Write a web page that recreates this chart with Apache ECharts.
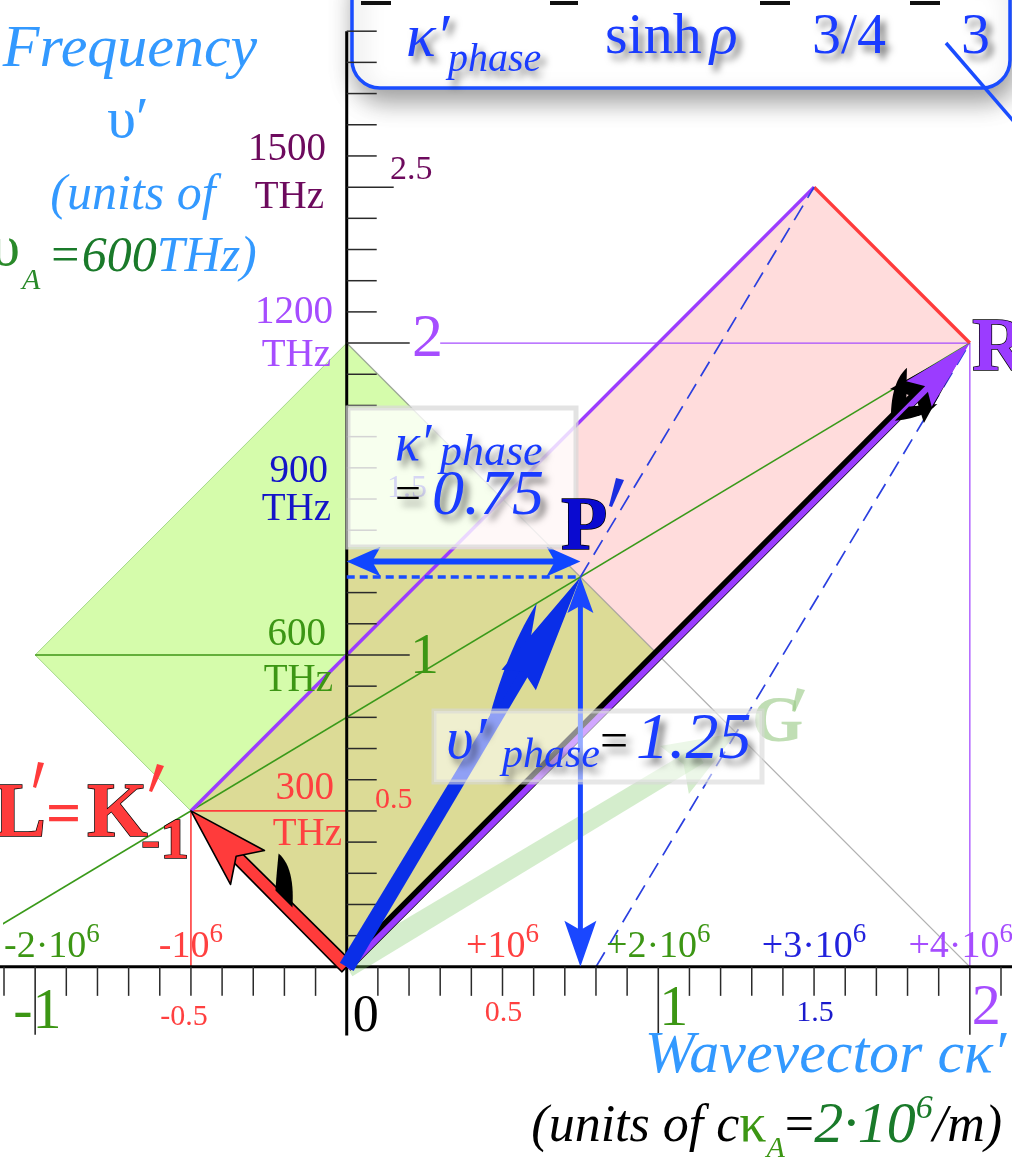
<!DOCTYPE html>
<html>
<head>
<meta charset="utf-8">
<title>Wavevector–frequency diagram</title>
<script src="https://cdn.jsdelivr.net/npm/echarts@6/dist/echarts.min.js"></script>
<style>
html, body { margin: 0; padding: 0; background: #ffffff; }
#chart { width: 1012px; height: 1157px; }
</style>
</head>
<body>
<div id="chart"></div>
<script>
// Wave-vector diagram: wavevector cκ′ (units of cκ_A) across, frequency υ′ (units of υ_A) up.

// ---- vectors and shapes, in diagram units ----
const origin = [0, 0];
const vecL = [-0.5, 0.5];      // L′ = K′₋₁
const vecR = [2, 2];           // R′
const vecP = [0.75, 1.25];     // P′ = (κ′phase, υ′phase)
const vecG = [1.25, 0.75];     // G′
const vecLR = [1.5, 2.5];      // L′ + R′
const dashFoot = [0.8, 0];     // dashed line through R′ meets the axis here
const kappaArrowY = 1.3;       // level of the κ′phase span arrow
const purpleRuleStart = 0.3;   // thin υ = 2 rule starts after its label

const greenDiamond = [[0, 0], [1, 1], [0, 2], [-1, 1]];
const pinkCell = [[0, 0], [2, 2], [1.5, 2.5], [-0.5, 0.5]];
const overlapCell = [[0, 0], [-0.5, 0.5], [0, 1], [0, 1.34], [0.66, 1.34], [1, 1]];
const greenRay = [[-1.14, 0.116], [2, 2]];
const grayDiag = [[0, 2], [2, 0]];
const greenMid = [[-1, 1], [0, 1]];

// ---- axis ticks and labels ----
const xTickFirst = -11, xTickLast = 21, yTickFirst = 1, yTickLast = 30, tickStep = 0.1;
const xLongTicks = [-1, 0, 1, 2];
const yLongTicks = [1, 2];
const yMidTicks = [2.5];
const xUnitValues = [-1, -0.5, 0, 0.5, 1, 1.5, 2];
const xUnitLabels = ['-1', '-0.5', '0', '0.5', '1', '1.5', '2'];
const waveValues = [-1, -0.5, 0.5, 1, 1.5, 2];
const waveLabels = ['-2·10', '-10', '+10', '+2·10', '+3·10', '+4·10'];
const waveExp = '6';
const yUnitValues = [0.5, 1, 1.5, 2, 2.5];
const yUnitLabels = ['0.5', '1', '1.5', '2', '2.5'];
const freqValues = [2.5, 2, 1.5, 1, 0.5];
const freqLabels = ['1500', '1200', '900', '600', '300'];

// ---- styling ----
const SERIF = '"Liberation Serif","Times New Roman","DejaVu Serif",serif';
const fnt = (size, style, weight) => (style || 'normal') + ' ' + (weight || 'normal') + ' ' + size + 'px ' + SERIF;
const C = {
  title: '#3399ff', deep: '#1a3cff', red: '#ff3b3b', green: '#3c9614', dgreen: '#1a7a2a',
  purple: '#a64dff', vpurple: '#9b3cff', plum: '#6d0a5d', navy: '#1414c8'
};
const SH = { textShadowColor: 'rgba(0,0,0,0.55)', textShadowBlur: 7, textShadowOffsetX: 5, textShadowOffsetY: 6 };

const mctx = document.createElement('canvas').getContext('2d');
function textWidth(t, font) { mctx.font = font; return mctx.measureText(t).width; }

function T(x, y, text, font, fill, align, z, extra) {
  return {
    type: 'text', x: x, y: y, z: z == null ? 60 : z, silent: true,
    style: Object.assign({
      text: text, font: font, fill: fill,
      align: align || 'left', verticalAlign: 'middle',
      textAlign: align || 'left', textVerticalAlign: 'middle'
    }, extra || {})
  };
}
// lay out pieces left to right; each piece: [text, font, color, dy, gapAfter]
function run(x, y, parts, z, extra) {
  const els = [];
  let cx = x;
  parts.forEach(p => {
    els.push(T(cx, y + (p[3] || 0), p[0], p[1], p[2], 'left', z, extra));
    cx += textWidth(p[0], p[1]) + (p[4] || 0);
  });
  return els;
}
function runWidth(parts) { return parts.reduce((s, p) => s + textWidth(p[0], p[1]) + (p[4] || 0), 0); }

function quad(p0, c, p1, n) {
  const pts = [];
  for (let i = 0; i <= n; i++) {
    const t = i / n, m = 1 - t;
    pts.push([m * m * p0[0] + 2 * m * t * c[0] + t * t * p1[0], m * m * p0[1] + 2 * m * t * c[1] + t * t * p1[1]]);
  }
  return pts;
}

// thick arrow drawn in pixel space between two projected points
function arrowParts(a, b, o) {
  const dx = b[0] - a[0], dy = b[1] - a[1], L = Math.hypot(dx, dy);
  const ux = dx / L, uy = dy / L, nx = -uy, ny = ux;
  const at = (p, al, pe) => [p[0] + ux * al + nx * pe, p[1] + uy * al + ny * pe];
  const out = [];
  const poly = (pts, fill, stroke, lw) => out.push({
    type: 'polygon', shape: { points: pts },
    style: { fill: fill, stroke: stroke || null, lineWidth: lw || 0, lineJoin: 'round' }
  });
  const hl = o.head, hw = o.headW, notch = o.notch == null ? 0.8 : o.notch;
  const tl = o.tailHead || 0, thw = o.tailHeadW || 0;
  const s0 = at(a, tl ? tl * 0.6 : 0, 0), s1 = at(b, -hl * 0.6, 0);
  const shaft = (w0, w1, off) => [at(s0, 0, off + w0 / 2), at(s1, 0, off + w1 / 2), at(s1, 0, off - w1 / 2), at(s0, 0, off - w0 / 2)];
  const tipHead = (len, half, back) => {
    const t = at(b, -(back || 0), 0);
    return [t, at(t, -len, half), at(t, -len * notch, 0), at(t, -len, -half)];
  };
  const w0 = o.w0, w1 = o.w1 == null ? o.w0 : o.w1;
  if (o.under) {
    const u = o.under;
    poly(shaft(u.w0, u.w1, u.off), u.color);
    poly(tipHead(u.head, u.headW, u.back), u.color);
  }
  poly(shaft(w0, w1, o.off || 0), o.fill, o.stroke, o.lw);
  // curved barb behind the head: from the shaft edge out to a hooked point
  (o.claws || []).forEach(cl => {
    const s = cl.side;
    const P0 = at(b, -cl.base0, s * w1 * 0.3);
    const P1 = at(b, -cl.tipAlong, s * cl.tipPerp);
    const P2 = at(b, -cl.base1, s * w1 * 0.3);
    const C1 = at(b, -(cl.base0 * 0.45 + cl.tipAlong * 0.55), s * cl.tipPerp * 1.05);
    const C2 = at(b, -(cl.base1 * 0.6 + cl.tipAlong * 0.4), s * cl.tipPerp * 0.45);
    poly(quad(P0, C1, P1, 14).concat(quad(P1, C2, P2, 14)), cl.color);
  });
  poly(tipHead(hl, hw, 0), o.fill, o.stroke, o.lw);
  if (tl) poly([a, at(a, tl, thw), at(a, tl * notch, 0), at(a, tl, -thw)], o.fill, o.stroke, o.lw);
  return out;
}

function arrowSeries(from, to, o) {
  return {
    type: 'custom', coordinateSystem: 'cartesian2d', clip: false, z: o.z, silent: true,
    data: [[from[0], from[1], to[0], to[1]]],
    encode: { x: [0, 2], y: [1, 3] },
    renderItem: function (params, api) {
      const a = api.coord([api.value(0), api.value(1)]);
      const b = api.coord([api.value(2), api.value(3)]);
      return { type: 'group', children: arrowParts(a, b, o) };
    }
  };
}

function polySeries(pts, fill, stroke, lw, z) {
  return {
    type: 'custom', coordinateSystem: 'cartesian2d', clip: false, z: z, silent: true,
    data: pts,
    renderItem: function (params, api) {
      if (params.dataIndex !== 0) return null;
      return {
        type: 'polygon', shape: { points: pts.map(p => api.coord(p)) },
        style: { fill: fill, stroke: stroke || null, lineWidth: lw || 0 }
      };
    }
  };
}

function lineSeries(pts, color, width, dash, z) {
  return {
    type: 'line', data: pts, showSymbol: false, symbol: 'none', clip: false, silent: true, z: z,
    lineStyle: { color: color, width: width, type: dash || 'solid', cap: 'butt' }
  };
}

// hand-drawn axes: lines at the zeros, 0.1 ticks, longer ticks at the unit marks
const axisSeries = {
  type: 'custom', coordinateSystem: 'cartesian2d', clip: false, z: 5, silent: true,
  data: [[0, 0]],
  renderItem: function (params, api) {
    const ch = [];
    const seg = (p, q, w, c) => ch.push({ type: 'line', shape: { x1: p[0], y1: p[1], x2: q[0], y2: q[1] }, style: { stroke: c, lineWidth: w } });
    seg(api.coord([-1.14, 0]), api.coord([2.16, 0]), 3, '#000');
    seg(api.coord([0, 3.0]), api.coord([0, -0.22]), 3, '#000');
    for (let i = xTickFirst; i <= xTickLast; i++) {
      const v = +(i * tickStep).toFixed(2);
      if (v === 0) continue;
      const p = api.coord([v, 0]);
      const long = xLongTicks.indexOf(v) >= 0;
      seg(p, [p[0], p[1] + (long ? 68 : 29)], long ? 1.6 : 1.5, '#2a2a2a');
    }
    for (let i = yTickFirst; i <= yTickLast; i++) {
      const v = +(i * tickStep).toFixed(2);
      const p = api.coord([0, v]);
      const len = yLongTicks.indexOf(v) >= 0 ? 63 : (yMidTicks.indexOf(v) >= 0 ? 47 : 30);
      seg(p, [p[0] + len, p[1]], 1.5, '#2a2a2a');
    }
    return { type: 'group', children: ch };
  }
};

const series = [
  polySeries(greenDiamond, '#d5fcab', '#a6d98d', 1, 1),
  polySeries(pinkCell, '#ffdcdc', null, 0, 1),
  polySeries(overlapCell, '#dcdb96', null, 0, 1),
  lineSeries(greenMid, C.green, 1.6, 'solid', 3),
  lineSeries(grayDiag, 'rgba(150,150,150,0.75)', 1.3, 'solid', 3),
  lineSeries([[purpleRuleStart, vecR[1]], vecR], C.purple, 1.3, 'solid', 3),
  lineSeries([[vecR[0], 0], vecR], C.purple, 1.3, 'solid', 3),
  lineSeries([[vecL[0], 0], vecL], C.red, 1.6, 'solid', 3),
  lineSeries([vecL, [0, vecL[1]]], C.red, 1.6, 'solid', 3),
  lineSeries(greenRay, '#3a9a1a', 1.6, 'solid', 3),
  lineSeries([vecL, vecLR], C.vpurple, 3.5, 'solid', 4),
  lineSeries([vecLR, vecR], C.red, 3.5, 'solid', 4),
  lineSeries([vecP, vecLR], '#2a3fe0', 1.7, [17, 9], 4),
  lineSeries([dashFoot, vecR], '#2a3fe0', 1.7, [17, 9], 4),
  lineSeries([[0, vecP[1]], vecP], '#1a4dff', 3.5, [8, 5], 6),
  axisSeries,
  arrowSeries(origin, vecG, { z: 6, w0: 22, w1: 18, head: 72, headW: 28, notch: 0.85, fill: 'rgba(120,200,95,0.32)' }),
  arrowSeries(origin, vecL, { z: 7, w0: 14, w1: 12, head: 80, headW: 24, notch: 0.8, fill: C.red, stroke: '#000', lw: 1.6,
    claws: [{ side: 1, color: '#000', base0: 140, base1: 116, tipAlong: 92, tipPerp: 32 }] }),
  arrowSeries(origin, vecR, { z: 8, w0: 6, off: 1.8, head: 72, headW: 18, notch: 0.85, fill: C.vpurple,
    under: { color: '#000', w0: 12, w1: 12, off: -0.6, head: 84, headW: 24, back: 5 },
    claws: [{ side: -1, color: '#000', base0: 110, base1: 88, tipAlong: 62, tipPerp: 27 },
            { side: 1, color: '#000', base0: 108, base1: 88, tipAlong: 66, tipPerp: 20 }] }),
  arrowSeries([vecP[0], 0], vecP, { z: 9, w0: 5, head: 36, headW: 13, tailHead: 46, tailHeadW: 16, notch: 0.8, fill: '#1a47ff' }),
  arrowSeries([0, kappaArrowY], [vecP[0], kappaArrowY], { z: 9, w0: 6, head: 34, headW: 15, tailHead: 34, tailHeadW: 15, notch: 0.75, fill: '#1046ff' }),
  arrowSeries(origin, vecP, { z: 10, w0: 16, w1: 12, head: 120, headW: 20, notch: 0.92, fill: '#0a2ee8',
    claws: [{ side: -1, color: '#0a2ee8', base0: 175, base1: 100, tipAlong: 45, tipPerp: 24 }] })
];

const chart = echarts.init(document.getElementById('chart'), null, { renderer: 'canvas', width: 1012, height: 1157 });
chart.setOption({
  animation: false,
  backgroundColor: '#ffffff',
  grid: { left: 4, right: 11, top: 0, bottom: 3, containLabel: false },
  xAxis: { type: 'value', min: -1.1, max: 2.1, show: false },
  yAxis: { type: 'value', min: -0.6, max: 3.1, show: false },
  series: series
});

const px = p => chart.convertToPixel({ gridIndex: 0 }, p);
const G = [];

// formula frame at the top
G.push({ type: 'rect', z: 1, silent: true, shape: { x: 352, y: -40, width: 658, height: 128, r: 28 },
  style: { fill: '#ffffff', stroke: '#1a4dff', lineWidth: 3.5, shadowBlur: 24, shadowColor: 'rgba(0,0,0,0.38)', shadowOffsetX: 4, shadowOffsetY: 12 } });
[[361, 391], [550, 578], [760, 790], [910, 940]].forEach(s => G.push({ type: 'line', z: 3, silent: true,
  shape: { x1: s[0], y1: 3, x2: s[1], y2: 3 }, style: { stroke: '#111', lineWidth: 4 } }));
G.push({ type: 'line', z: 3, silent: true, shape: { x1: 946, y1: 43, x2: 1016, y2: 124 }, style: { stroke: '#1a4dff', lineWidth: 3.5 } });
G.push(...run(406, 40, [['κ′', fnt(62, 'italic'), C.deep]], 4, SH));
G.push(...run(448, 60, [['phase', fnt(40, 'italic'), C.deep]], 4, SH));
G.push(...run(605, 38, [['sinh', fnt(58), C.deep, 0, 8], ['ρ', fnt(58, 'italic'), C.deep]], 4, SH));
G.push(T(812, 38, '3/4', fnt(58), C.deep, 'left', 4, SH));
G.push(T(961, 38, '3', fnt(58), C.deep, 'left', 4, SH));

// frequency axis title
G.push(T(130, 50, 'Frequency', fnt(60, 'italic'), C.title, 'center'));
G.push(T(128, 122, 'υ′', fnt(58), C.title, 'center'));
G.push(T(133, 196, '(units of', fnt(50, 'italic'), C.title, 'center'));
G.push(T(20, 250, 'υ', fnt(58), '#2a8a2a', 'right'));
G.push(T(22, 281, 'A', fnt(30, 'italic'), '#2a8a2a'));
G.push(...run(48, 258, [['=600', fnt(50, 'italic'), C.dgreen], ['THz)', fnt(50, 'italic'), C.title]]));

// THz labels beside the frequency axis
const freqColors = [C.plum, C.purple, C.navy, C.green, '#ff4040'];
const freqNumDy = [-37, -30, -27, -20, -22], freqThzDy = [11, 13, 11, 26, 24];
const freqNumRight = [326, 333, 328, 326, 334], freqThzRight = [324, 331, 331, 333, 342];
freqValues.forEach((v, i) => {
  const p = px([0, v]);
  G.push(T(freqNumRight[i], p[1] + freqNumDy[i], freqLabels[i], fnt(39), freqColors[i], 'right', 40));
  G.push(T(freqThzRight[i], p[1] + freqThzDy[i], 'THz', fnt(39), freqColors[i], 'right', 40));
});

// unit labels on the frequency axis
const yLabStyle = [
  { f: fnt(30), c: '#ff4040', x: 375, dy: -11 },
  { f: fnt(58), c: C.green, x: 410, dy: 3 },
  { f: fnt(32), c: '#3232c8', x: 387, dy: -10 },
  { f: fnt(62), c: C.purple, x: 412, dy: -3 },
  { f: fnt(34), c: C.plum, x: 390, dy: -17 }
];
yUnitValues.forEach((v, i) => {
  const p = px([0, v]);
  G.push(T(yLabStyle[i].x, p[1] + yLabStyle[i].dy, yUnitLabels[i], yLabStyle[i].f, yLabStyle[i].c, 'left', 40));
});

// unit labels under the wavevector axis
const xLabStyle = [
  { f: fnt(58), c: C.green, dx: -22, dy: 46, a: 'left' },
  { f: fnt(30), c: '#ff4040', dx: -7, dy: 50, a: 'center' },
  { f: fnt(52), c: '#000', dx: 6, dy: 50, a: 'left' },
  { f: fnt(30), c: '#ff4040', dx: 1, dy: 46, a: 'center' },
  { f: fnt(58), c: C.green, dx: 1, dy: 43, a: 'left' },
  { f: fnt(30), c: '#1a1acc', dx: 1, dy: 46, a: 'center' },
  { f: fnt(58), c: C.purple, dx: 2, dy: 42, a: 'left' }
];
xUnitValues.forEach((v, i) => {
  const p = px([v, 0]);
  const s = xLabStyle[i];
  G.push(T(p[0] + s.dx, p[1] + s.dy, xUnitLabels[i], s.f, s.c, s.a, 40));
});

// wavenumber values (per metre) just above the axis
const waveColors = [C.green, '#ff4040', '#ff4040', C.green, '#2222dd', C.purple];
waveValues.forEach((v, i) => {
  const p = px([v, 0]);
  const parts = [[waveLabels[i], fnt(38), waveColors[i]], [waveExp, fnt(27), waveColors[i], -12]];
  const w = runWidth(parts);
  let x0 = p[0] - w / 2;
  x0 = Math.max(4, Math.min(x0, 1013 - w));
  G.push(...run(x0, p[1] - 20, parts, 40));
});

// wavevector axis title
G.push(T(1006, 1056, 'Wavevector cκ′', fnt(60, 'italic'), C.title, 'right'));
const unitParts = [
  ['(units of c', fnt(52, 'italic'), '#000'],
  ['κ', fnt(54), C.green],
  ['A', fnt(30, 'italic'), C.green, 22],
  ['=', fnt(52), '#000'],
  ['2·10', fnt(58, 'italic'), C.dgreen],
  ['6', fnt(34, 'italic'), C.dgreen, -18],
  ['/m)', fnt(52, 'italic'), '#000']
];
G.push(...run(1002 - runWidth(unitParts), 1127, unitParts, 60));

// translucent label panels
G.push({ type: 'rect', z: 56, silent: true, shape: { x: 348, y: 408, width: 228, height: 139 },
  style: { fill: 'rgba(255,255,255,0.8)', stroke: 'rgba(215,215,215,0.7)', lineWidth: 5 } });
G.push({ type: 'rect', z: 56, silent: true, shape: { x: 434, y: 711, width: 328, height: 71 },
  style: { fill: 'rgba(255,255,255,0.55)', stroke: 'rgba(215,215,215,0.6)', lineWidth: 5 } });

G.push(T(395, 446, 'κ′', fnt(52, 'italic'), C.deep, 'left', 60, SH));
G.push(T(440, 453, 'phase', fnt(44, 'italic'), C.deep, 'left', 60, SH));
G.push(T(395, 496, '=', fnt(46), '#000', 'left', 60, SH));
G.push(T(432, 497, '0.75', fnt(64, 'italic'), C.deep, 'left', 60, SH));

G.push(T(446, 742, 'υ′', fnt(60, 'italic'), C.deep, 'left', 60, SH));
G.push(T(502, 756, 'phase', fnt(42, 'italic'), C.deep, 'left', 60, SH));
G.push(T(600, 744, '=', fnt(50), '#000', 'left', 60, SH));
G.push(T(636, 741, '1.25', fnt(66, 'italic'), C.deep, 'left', 60, SH));

// point names
const OUT = { stroke: '#000', lineWidth: 1.4 };
G.push(T(561, 529, 'P', fnt(76, 'normal', 'bold'), '#0a0ad0', 'left', 62, OUT));
G.push({ type: 'polygon', z: 62, silent: true, shape: { points: [[616, 478], [624, 480], [612, 507], [609, 506]] }, style: { fill: '#1a2ee0' } });
G.push(T(972, 350, 'R', fnt(76, 'normal', 'bold'), C.vpurple, 'left', 62, OUT));
G.push(T(752, 724, 'G', fnt(66, 'normal', 'bold'), 'rgba(150,200,130,0.6)', 'left', 50));
G.push({ type: 'polygon', z: 50, silent: true, shape: { points: [[797, 688], [805, 690], [795, 712], [792, 711]] }, style: { fill: 'rgba(150,200,130,0.6)' } });
G.push(T(-6, 816, 'L', fnt(78, 'normal', 'bold'), C.red, 'left', 62, OUT));
G.push({ type: 'polygon', z: 62, silent: true, shape: { points: [[38, 762], [44, 763], [36, 788], [33, 787]] }, style: { fill: C.red } });
G.push(T(46, 817, '=', fnt(62, 'normal', 'bold'), C.red, 'left', 62));
G.push(T(87, 816, 'K', fnt(78, 'normal', 'bold'), C.red, 'left', 62, OUT));
G.push({ type: 'polygon', z: 62, silent: true, shape: { points: [[157, 764], [164, 766], [152, 792], [149, 791]] }, style: { fill: C.red } });
G.push(T(141, 843, '-1', fnt(58, 'normal', 'bold'), C.red, 'left', 62, OUT));

chart.setOption({ graphic: G });
</script>
</body>
</html>
